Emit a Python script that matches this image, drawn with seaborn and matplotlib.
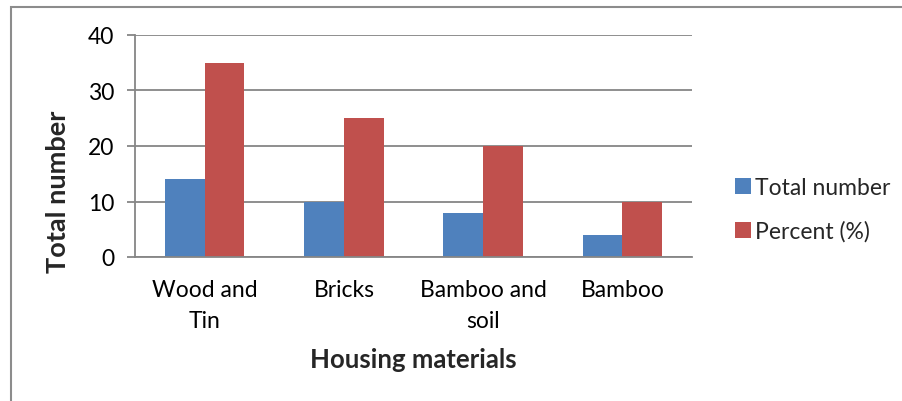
import matplotlib
matplotlib.use("Agg")
import matplotlib.pyplot as plt
import seaborn as sns
import pandas as pd
from matplotlib.patches import Rectangle

categories = ["Wood and\nTin", "Bricks", "Bamboo and\nsoil", "Bamboo"]
total_number = [14, 10, 8, 4]
percent = [35, 25, 20, 10]
series_names = ["Total number", "Percent (%)"]
colors = ["#4F81BD", "#C0504D"]

df = pd.DataFrame({
    "category": categories * 2,
    "value": total_number + percent,
    "series": [series_names[0]] * 4 + [series_names[1]] * 4,
})

sns.set_theme(style="white")
plt.rcParams["font.family"] = ["Lato", "DejaVu Sans"]

fig = plt.figure(figsize=(9.02, 4.02), dpi=100)
ax = fig.add_axes([135/902, 1-258/402, (692-135)/902, (258-36)/402])

sns.barplot(data=df, x="category", y="value", hue="series", palette=colors,
            width=0.57, saturation=1, ax=ax, legend=True)
for p in ax.patches:
    p.set_edgecolor("none")

ax.set_ylim(0, 40)
ax.set_yticks([0, 10, 20, 30, 40])
ax.set_xlim(-0.5, 3.5)
ax.yaxis.grid(True, color="#868686", linewidth=1.3)
ax.set_axisbelow(True)
for s in ["top", "right"]:
    ax.spines[s].set_visible(False)
ax.spines["left"].set_color("#868686")
ax.spines["left"].set_linewidth(1.3)
ax.spines["bottom"].set_color("#868686")
ax.spines["bottom"].set_linewidth(1.3)
ax.tick_params(axis="y", left=True, length=6, width=1.3, color="#868686",
               labelsize=16.5, labelcolor="black", pad=9)
ax.tick_params(axis="x", bottom=False, labelsize=16.5, labelcolor="black", pad=10)
for t in ax.get_xticklabels():
    t.set_linespacing(1.6)

ax.set_xlabel("Housing materials", fontsize=18.5, fontweight="bold", labelpad=11)
ax.set_ylabel("Total number", fontsize=19.5, fontweight="bold")
ax.yaxis.set_label_coords(-0.117, 0.297)

handles, labels = ax.get_legend_handles_labels()
ax.legend(handles, labels, loc="center left", bbox_to_anchor=(1.06, 0.215),
          frameon=False, fontsize=16.5, handlelength=0.7, handleheight=0.7,
          handletextpad=0.2, labelspacing=1.0, borderaxespad=0)

fig.patches.append(Rectangle((11/902, -0.1), 1.2, 1 - 8/402 + 0.1,
                             transform=fig.transFigure, fill=False,
                             edgecolor="#8c8c8c", linewidth=1.5))

fig.savefig("out.png", dpi=100)
